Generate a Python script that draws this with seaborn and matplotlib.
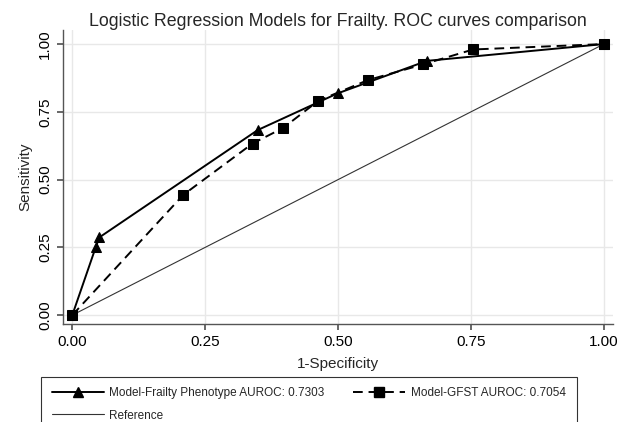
import matplotlib
matplotlib.use("Agg")
import matplotlib.pyplot as plt
import seaborn as sns
import pandas as pd
from matplotlib.lines import Line2D

# Data
fp_x = [0.0, 0.044, 0.051, 0.349, 0.499, 0.667, 1.0]
fp_y = [0.0, 0.250, 0.287, 0.683, 0.818, 0.938, 1.0]
gf_x = [0.0, 0.209, 0.339, 0.397, 0.463, 0.556, 0.660, 0.754, 1.0]
gf_y = [0.0, 0.444, 0.633, 0.691, 0.791, 0.867, 0.925, 0.980, 1.0]
ref_x = [0.0, 1.0]
ref_y = [0.0, 1.0]
ticks = [0.0, 0.25, 0.5, 0.75, 1.0]
tick_labels = ["0.00", "0.25", "0.50", "0.75", "1.00"]
lab_fp = "Model-Frailty Phenotype AUROC: 0.7303"
lab_gf = "Model-GFST AUROC: 0.7054"
lab_ref = "Reference"

sns.set_theme(style="whitegrid")
plt.rcParams['font.family'] = ['Liberation Sans', 'DejaVu Sans']

fig = plt.figure(figsize=(6.21, 4.22), dpi=100)
ax = fig.add_axes([0.101, 0.232, 0.886, 0.697])

df_fp = pd.DataFrame({"x": fp_x, "y": fp_y})
df_gf = pd.DataFrame({"x": gf_x, "y": gf_y})
df_ref = pd.DataFrame({"x": ref_x, "y": ref_y})

sns.lineplot(data=df_ref, x="x", y="y", ax=ax, color="#333333", lw=0.8, sort=False)
sns.lineplot(data=df_gf, x="x", y="y", ax=ax, color="black", lw=1.4, sort=False,
             marker="s", markersize=7, markeredgecolor="black", linestyle=(0, (5, 3)))
sns.lineplot(data=df_fp, x="x", y="y", ax=ax, color="black", lw=1.4, sort=False,
             marker="^", markersize=7, markeredgecolor="black")

ax.set_xlim(-0.018, 1.017)
ax.set_ylim(-0.033, 1.052)
ax.set_xticks(ticks)
ax.set_xticklabels(tick_labels)
ax.set_yticks(ticks)
ax.set_yticklabels(tick_labels, rotation=90, va="center")
ax.tick_params(axis="both", labelsize=11, length=4, color="#555555", colors="black")
ax.tick_params(axis="both", which="major", bottom=True, left=True)
ax.grid(True, color="#e8e8e8", lw=1.0)
for s in ["top", "right"]:
    ax.spines[s].set_visible(False)
for s in ["left", "bottom"]:
    ax.spines[s].set_color("#555555")
    ax.spines[s].set_linewidth(1.0)
ax.set_xlabel("1-Specificity", fontsize=11, labelpad=6)
ax.set_ylabel("Sensitivity", fontsize=11, labelpad=4)
ax.set_title("Logistic Regression Models for Frailty. ROC curves comparison", fontsize=12.8, pad=3)

h_fp = Line2D([], [], color="black", lw=1.4, marker="^", markersize=7)
h_gf = Line2D([], [], color="black", lw=1.4, marker="s", markersize=7, linestyle=(0, (5, 3)))
h_ref = Line2D([], [], color="#333333", lw=0.8)
leg = fig.legend([h_fp, h_ref, h_gf], [lab_fp, lab_ref, lab_gf], ncol=2,
                 loc="upper left", bbox_to_anchor=(0.066, 0.107), bbox_transform=fig.transFigure,
                 borderaxespad=0.0,
                 fontsize=8.5, frameon=True, fancybox=False, handlelength=4.4,
                 handletextpad=0.5, columnspacing=2.4, borderpad=0.9, labelspacing=0.85)
leg.get_frame().set_edgecolor("black")
leg.get_frame().set_linewidth(0.8)

fig.savefig("out.png", dpi=100)
